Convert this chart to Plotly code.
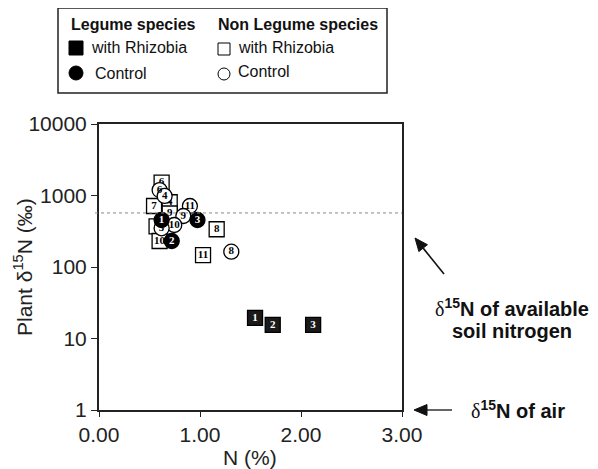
import math
import plotly.graph_objects as go

# ---- data ----
leg_rhiz_x = [1.545, 1.72, 2.12]
leg_rhiz_y = [19.4, 15.5, 15.5]
leg_rhiz_lab = ["1", "2", "3"]

leg_ctrl_x = [0.62, 0.72, 0.975]
leg_ctrl_y = [454, 231, 454]
leg_ctrl_lab = ["1", "2", "3"]

non_rhiz_x = [0.62, 0.70, 0.545, 0.70, 0.57, 0.60, 1.165, 1.03]
non_rhiz_y = [1510, 804, 713, 560, 370, 231, 337, 147]
non_rhiz_lab = ["6", "4", "7", "9", "5", "10", "8", "11"]

non_ctrl_x = [0.60, 0.65, 0.90, 0.835, 0.745, 0.62, 1.31]
non_ctrl_y = [1190, 985, 713, 517, 387, 348, 164]
non_ctrl_lab = ["6", "4", "11", "9", "10", "5", "8"]

soil_n = 570
y_ticks = [1, 10, 100, 1000, 10000]
y_tick_text = ["1", "10", "100", "1000", "10000"]
x_ticks = [0, 1, 2, 3]
x_tick_text = ["0.00", "1.00", "2.00", "3.00"]

# ---- layout geometry (page pixels; page body has 8px margin) ----
O = 8
W, H = 598 - O, 469 - O
L, R, T, B = 99, 402, 124, 410   # plot area in page pixels


def px(xp):
    return (xp - L) / (R - L)


def py(yp):
    return (B - yp) / (B - T)


lab_font = dict(family="Liberation Serif", size=11)
fig = go.Figure()


def add(xs, ys, labs, symbol, fill, txtcol, size):
    fig.add_trace(go.Scatter(
        x=xs, y=ys, mode="markers+text", text=[f"<b>{t}</b>" for t in labs],
        textposition="middle center",
        textfont=dict(lab_font, color=txtcol),
        marker=dict(symbol=symbol, size=size, color=fill,
                    line=dict(color="black", width=1.3)),
        showlegend=False, hoverinfo="skip", cliponaxis=False))


add(non_rhiz_x, non_rhiz_y, non_rhiz_lab, "square", "white", "black", 15)
add(non_ctrl_x, non_ctrl_y, non_ctrl_lab, "circle", "white", "black", 15)
add(leg_ctrl_x, leg_ctrl_y, leg_ctrl_lab, "circle", "black", "white", 15)
add(leg_rhiz_x, leg_rhiz_y, leg_rhiz_lab, "square", "#1a1a1a", "white", 15)

shapes = [
    dict(type="line", xref="paper", yref="y", x0=px(95), x1=1, y0=soil_n, y1=soil_n,
         line=dict(color="#888888", width=1, dash="dot")),
    # legend box
    dict(type="rect", xref="paper", yref="paper", x0=px(58), x1=px(387),
         y0=py(93), y1=py(8), line=dict(color="#222222", width=1.5)),
]


def mk(shape_type, cx, cy, s, fill):
    return dict(type=shape_type, xref="paper", yref="paper", xsizemode="pixel",
                ysizemode="pixel", xanchor=px(cx), yanchor=py(cy),
                x0=-s / 2, x1=s / 2, y0=-s / 2, y1=s / 2,
                fillcolor=fill, line=dict(color="black", width=1))


shapes += [
    mk("rect", 76, 48, 14, "black"),
    mk("circle", 76, 73, 14, "black"),
    mk("rect", 224, 49, 12, "white"),
    mk("circle", 224, 74, 12, "white"),
]


def arrow(tx, ty, sx, sy, head_len=13, head_w=11, width=1.6):
    dx, dy = tx - sx, ty - sy
    d = math.hypot(dx, dy)
    ux, uy = dx / d, dy / d
    bx, by = tx - ux * head_len, ty - uy * head_len
    nx, ny = -uy, ux
    p1 = (bx + nx * head_w / 2, by + ny * head_w / 2)
    p2 = (bx - nx * head_w / 2, by - ny * head_w / 2)
    path = "M {} {} L {} {} L {} {} Z".format(
        px(tx), py(ty), px(p1[0]), py(p1[1]), px(p2[0]), py(p2[1]))
    return [
        dict(type="line", xref="paper", yref="paper", x0=px(sx), y0=py(sy),
             x1=px(bx), y1=py(by), line=dict(color="#111111", width=width)),
        dict(type="path", xref="paper", yref="paper", path=path,
             fillcolor="#111111", line=dict(color="#111111", width=1)),
    ]


shapes += arrow(415, 238, 444, 274)
shapes += arrow(414, 410, 452, 410, width=1.3)

leg_font = dict(family="Liberation Sans", size=16, color="#111111")
ann = []


def txt(xp, yp, s, font, xanchor="left", angle=0):
    ann.append(dict(xref="paper", yref="paper", x=px(xp), y=py(yp), text=s,
                    showarrow=False, xanchor=xanchor, yanchor="middle", font=font,
                    textangle=angle))


txt(69, 24, "<b>Legume species</b>", leg_font)
txt(216, 24, "<b>Non Legume species</b>", leg_font)
txt(89, 48, "with Rhizobia", leg_font)
txt(93, 73, "Control", leg_font)
txt(236, 47, "with Rhizobia", leg_font)
txt(236, 72, "Control", leg_font)

side_font = dict(family="Liberation Sans", size=20, color="#111111")
delta = "<span style='font-family:Liberation Serif;font-weight:normal'>δ</span>"
txt(512, 307, f"<b>{delta}<sup>15</sup>N of available</b>", side_font, "center")
txt(512, 331, "<b>soil nitrogen</b>", side_font, "center")
txt(518, 409, f"<b>{delta}<sup>15</sup>N of air</b>", side_font, "center")

ax_font = dict(family="Liberation Sans", size=21, color="#222222")
txt(250, 457, "N (%)", ax_font, "center")
txt(23, 267, "Plant δ<sup>15</sup>N (‰)", ax_font, "center", angle=-90)

fig.update_layout(
    width=W, height=H,
    margin=dict(l=L - O, r=(598 - R), t=T - O, b=(469 - B), autoexpand=False),
    paper_bgcolor="white", plot_bgcolor="white",
    shapes=shapes, annotations=ann,
    xaxis=dict(range=[0, 3], tickvals=x_ticks, ticktext=x_tick_text, automargin=False,
               showgrid=False, zeroline=False, showline=True, linecolor="#222222",
               linewidth=2, mirror=True, ticks="outside", ticklen=5, tickwidth=1.2,
               tickcolor="#222222", tickfont=ax_font),
    yaxis=dict(type="log", range=[0, 4], tickvals=y_ticks, ticktext=y_tick_text,
               automargin=False,
               showgrid=False, zeroline=False, showline=True, linecolor="#222222",
               linewidth=2, mirror=True, ticks="outside", ticklen=6, tickwidth=1.2,
               tickcolor="#222222", tickfont=ax_font),
)

fig.write_html("out.html")
